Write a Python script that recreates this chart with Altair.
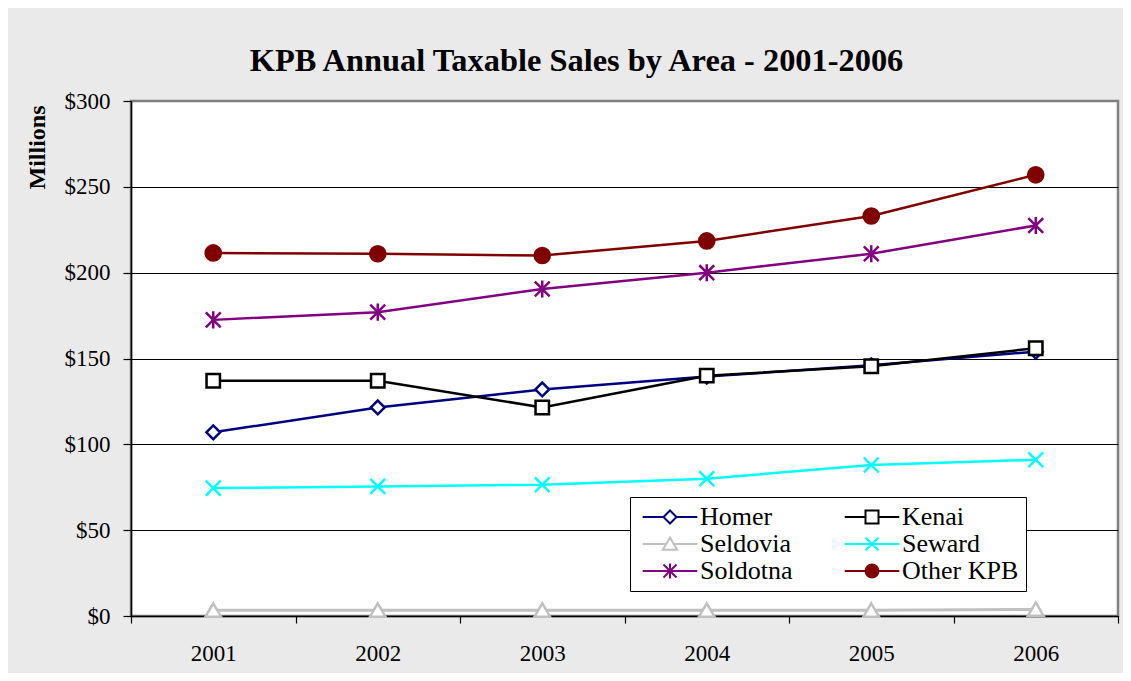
import altair as alt
import pandas as pd

years = ["2001", "2002", "2003", "2004", "2005", "2006"]
series_names = ["Homer", "Kenai", "Seldovia", "Seward", "Soldotna", "Other KPB"]
homer = [107.0, 121.5, 132.0, 139.5, 146.0, 154.0]
kenai = [137.0, 137.0, 121.5, 140.0, 145.5, 156.0]
seldovia = [3.3, 3.3, 3.3, 3.3, 3.3, 3.8]
seward = [74.5, 75.5, 76.5, 80.0, 88.0, 91.0]
soldotna = [172.5, 177.0, 190.5, 200.0, 211.0, 227.5]
other_kpb = [211.5, 211.0, 210.0, 218.5, 233.0, 257.0]
y_ticks = [0, 50, 100, 150, 200, 250, 300]

colors = ["#000080", "#000000", "#C0C0C0", "#00FFFF", "#800080", "#800000"]
fills = ["#FFFFFF", "#FFFFFF", "#FFFFFF", "transparent", "transparent", "#800000"]
marker_shapes = [
    "diamond",
    "square",
    "M0,-1L1.1,0.9L-1.1,0.9Z",
    "M-1,-1L1,1M-1,1L1,-1",
    "M-1,-1L1,1M-1,1L1,-1M0,-1.15L0,1.15",
    "circle",
]
L = "4.2"
legend_shapes = [
    f"M-{L},0L-1,0M1,0L{L},0M0,-1L1,0L0,1L-1,0Z",
    f"M-{L},0L-1,0M1,0L{L},0M-1,-1L1,-1L1,1L-1,1Z",
    f"M-{L},0L-0.6,0M0.6,0L{L},0M0,-1L1.1,0.9L-1.1,0.9Z",
    f"M-{L},0L{L},0M-1,-1L1,1M-1,1L1,-1",
    f"M-{L},0L{L},0M-1,-1L1,1M-1,1L1,-1M0,-1.15L0,1.15",
    f"M-{L},0L-1,0M1,0L{L},0M1,0A1,1,0,1,1,-1,0A1,1,0,1,1,1,0Z",
]
marker_sizes = [190, 180, 200, 220, 220, 230]

rows = []
for name, vals in zip(series_names, [homer, kenai, seldovia, seward, soldotna, other_kpb]):
    for yr, v in zip(years, vals):
        rows.append({"year": yr, "series": name, "value": v})
df = pd.DataFrame(rows)

FONT = "Liberation Serif"

x_enc = alt.X(
    "year:O",
    bandPosition=0.5,
    scale=alt.Scale(type="band", paddingInner=0, paddingOuter=0, domain=years),
    axis=alt.Axis(
        title=None, tickBand="extent", labelAngle=0, labelFont=FONT, labelFontSize=23,
        labelColor="black", labelPadding=19, tickSize=7, tickColor="black", tickWidth=1.2,
        domainColor="black", domainWidth=1.5, grid=False,
    ),
)
y_enc = alt.Y(
    "value:Q",
    scale=alt.Scale(domain=[0, 300], nice=False),
    axis=alt.Axis(
        values=y_ticks, format="$,.0f", title="Millions", titleX=-94, titleY=46,
        titleAngle=270, titleAlign="center", titleBaseline="middle", titleFont=FONT,
        titleFontSize=24, titleFontWeight="bold", titleColor="black",
        labelFont=FONT, labelFontSize=23, labelColor="black", labelPadding=13,
        tickSize=8, tickColor="black", tickWidth=1.2, domainColor="black", domainWidth=1.5,
        grid=True,
        gridColor={"condition": {"test": "datum.value >= 300", "value": "#808080"}, "value": "black"},
        gridWidth=1,
    ),
)

legend_def = alt.Legend(
    title=None, orient="none", legendX=499, legendY=396, direction="horizontal",
    columns=2, columnPadding=46, rowPadding=1, padding=7, strokeColor="black",
    fillColor="white", cornerRadius=0, labelFont=FONT, labelFontSize=26,
    labelColor="black", labelOffset=17, symbolOffset=20, symbolSize=169,
    symbolStrokeWidth=2, symbolFillColor="white",
)

layers = []
for i, name in enumerate(series_names):
    layers.append(
        alt.Chart(df)
        .transform_filter(alt.datum.series == name)
        .mark_line(stroke=colors[i], strokeWidth=2.5 if name != "Seldovia" else 3)
        .encode(x=x_enc, y=y_enc)
    )
for i, name in enumerate(series_names):
    layers.append(
        alt.Chart(df)
        .transform_filter(alt.datum.series == name)
        .mark_point(shape=marker_shapes[i], size=marker_sizes[i], stroke=colors[i],
                    fill=fills[i], strokeWidth=2.5, opacity=1)
        .encode(x=x_enc, y=y_enc)
    )

# invisible layer that only feeds the legend (line + marker symbols)
legend_layer = (
    alt.Chart(df)
    .mark_point(size=169, strokeWidth=2, filled=True)
    .encode(
        x=x_enc, y=y_enc,
        opacity=alt.value(0),
        shape=alt.Shape("series:N", scale=alt.Scale(domain=series_names, range=legend_shapes), legend=legend_def),
        stroke=alt.Stroke("series:N", scale=alt.Scale(domain=series_names, range=colors), legend=legend_def),
        fill=alt.Fill("series:N", scale=alt.Scale(domain=series_names, range=fills), legend=legend_def),
    )
)
layers.append(legend_layer)

chart = (
    alt.layer(*layers)
    .properties(
        width=987, height=515,
        autosize=alt.AutoSizeParams(type="none"),
        padding={"left": 123, "top": 93, "right": 5, "bottom": 57},
        title=alt.TitleParams(
            "KPB Annual Taxable Sales by Area - 2001-2006", font=FONT, fontSize=32.4,
            fontWeight="bold", color="black", anchor="middle", offset=13, dx=-48,
        ),
    )
    .configure(background="#EAEAEA")
    .configure_view(stroke="#808080", strokeWidth=2.5, fill="white")
)

chart.save("out.html", embed_options={"renderer": "svg", "actions": False})
